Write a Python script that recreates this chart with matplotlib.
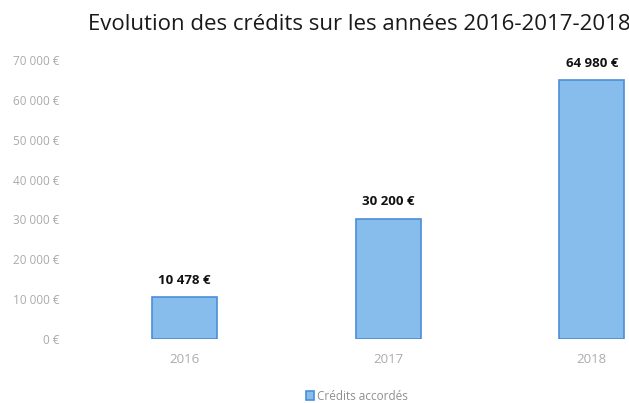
import matplotlib.pyplot as plt
from matplotlib.ticker import FuncFormatter

## data
years = ["2016", "2017", "2018"]
credits = [10478, 30200, 64980]
value_labels = ["10 478 €", "30 200 €", "64 980 €"]
y_ticks = [0, 10000, 20000, 30000, 40000, 50000, 60000, 70000]

plt.rcParams['font.family'] = ['Open Sans', 'DejaVu Sans']

fig = plt.figure(figsize=(6.29, 4.03), dpi=100)
ax = fig.add_axes([83 / 629, 64 / 403, (629 - 83) / 629, 279 / 403])

x = range(len(years))
bars = ax.bar(x, credits, width=0.32, color="#86bdec", edgecolor="#4a8fd6",
              linewidth=1.2, label="Crédits accordés")

for b, txt in zip(bars, value_labels):
    ax.text(b.get_x() + b.get_width() / 2, b.get_height() + 2600, txt,
            ha="center", va="bottom", fontsize=9.5, fontweight="bold", color="#111111")

ax.set_xlim(-0.5, (629 - 83) / 203.5 - 0.5)
ax.set_ylim(0, 70000)
ax.set_yticks(y_ticks)
ax.yaxis.set_major_formatter(FuncFormatter(
    lambda v, p: "{:,.0f} €".format(v).replace(",", " ")))
ax.set_xticks(list(x))
ax.set_xticklabels(years)

for s in ax.spines.values():
    s.set_visible(False)
ax.tick_params(axis="both", length=0, colors="#ababab", labelsize=8.5)
ax.tick_params(axis="y", pad=17)
ax.tick_params(axis="x", pad=10)
ax.tick_params(axis="x", labelsize=9.5)

fig.text(359 / 629, 1 - 25 / 403, "Evolution des crédits sur les années 2016-2017-2018",
         ha="center", va="center", fontsize=16, color="#1a1a1a")

fig.legend(loc="center", bbox_to_anchor=(357 / 629, 1 - 396 / 403), frameon=False,
           fontsize=8.5, handlelength=0.7, handleheight=0.7, handletextpad=0.3,
           labelcolor="#909090")

fig.savefig("out.png", dpi=100)
